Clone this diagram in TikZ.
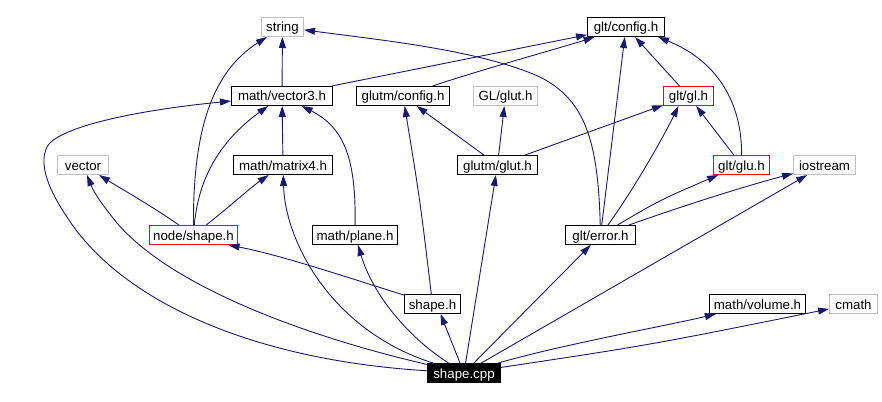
\documentclass[tikz,border=0pt]{standalone}
\usepackage{fontspec}
\setmainfont{Liberation Sans}
\usetikzlibrary{arrows.meta}
\definecolor{edgeblue}{RGB}{25,25,112}
\definecolor{sysgray}{RGB}{191,191,191}
\begin{document}
\begin{tikzpicture}[x=1pt,y=-1pt,
  box/.style={draw=black, line width=1pt, rectangle, inner sep=0pt, minimum height=19pt,
    text height=10pt, text depth=0pt, font=\fontsize{13.3pt}{16pt}\selectfont},
  sysbox/.style={box, draw=sysgray},
  redbox/.style={box, draw=red},
  mainbox/.style={box, fill=black, text=white},
  edge/.style={draw=edgeblue, line width=0.9pt, -{Triangle[length=11pt,width=7pt]}}]
\useasboundingbox (0,0) rectangle (882,401);
\fill[white] (0,0) rectangle (882,401);

% nodes
\node[sysbox, minimum width=42pt]  (string)    at (282.5,27)  {string};
\node[box,    minimum width=77pt]  (gltconfig) at (626,27)    {glt/config.h};
\node[box,    minimum width=101pt] (vec3)      at (282,96)    {math/vector3.h};
\node[box,    minimum width=93pt]  (gconfig)   at (403,96)    {glutm/config.h};
\node[sysbox, minimum width=64pt]  (glglut)    at (505.5,96)  {GL/glut.h};
\node[redbox, minimum width=50pt]  (gl)        at (688.5,96)  {glt/gl.h};
\node[sysbox, minimum width=51pt]  (vector)    at (83,165)    {vector};
\node[box,    minimum width=99pt]  (mat4)      at (283,165)   {math/matrix4.h};
\node[box,    minimum width=80pt]  (glut)      at (497.5,165) {glutm/glut.h};
\node[redbox, minimum width=56pt]  (glu)       at (741.5,165) {glt/glu.h};
\node[sysbox, minimum width=62pt]  (iostream)  at (824.5,165) {iostream};
\node[redbox, minimum width=88pt]  (nodeshape) at (193.5,235) {node/shape.h};
\node[box,    minimum width=85pt]  (plane)     at (355,235)   {math/plane.h};
\node[box,    minimum width=70pt]  (error)     at (600.5,235) {glt/error.h};
\node[box,    minimum width=56pt]  (shapeh)    at (432.5,304) {shape.h};
\node[box,    minimum width=96pt]  (volume)    at (757.5,304) {math/volume.h};
\node[sysbox, minimum width=48pt]  (cmath)     at (853.5,304) {cmath};
\node[mainbox,minimum width=73pt]  (cpp)       at (464,373)   {shape.cpp};

% edges from shape.cpp
\draw[edge] (cpp) .. controls (250,360) and (120,300) .. (67,217)
   .. controls (50,192) and (38,165) .. (47,147)
   .. controls (55,130) and (120,112) .. (vec3);
\draw[edge] (cpp) .. controls (300,335) and (170,285) .. (117,223)
   .. controls (105,208) and (95,195) .. (vector);
\draw[edge] (cpp) .. controls (330,330) and (285,240) .. (mat4);
\draw[edge] (cpp) .. controls (405,335) and (372,292) .. (plane);
\draw[edge] ([xshift=-4pt]cpp.north) -- ([xshift=8pt]shapeh.south);
\draw[edge] (cpp) -- (glut);
\draw[edge] (cpp) -- (error);
\draw[edge] (cpp) -- (iostream);
\draw[edge] (cpp) .. controls (560,345) and (670,325) .. (volume);
\draw[edge] (cpp) .. controls (650,345) .. (cmath);

% node/shape.h
\draw[edge] (nodeshape) .. controls (150,205) and (120,188) .. (vector);
\draw[edge] (nodeshape) .. controls (193,130) and (212,72) .. (string);
\draw[edge] (nodeshape) .. controls (199,170) and (228,135) .. (vec3);
\draw[edge] (nodeshape) .. controls (228,208) and (250,188) .. (mat4);

% math headers
\draw[edge] (vec3) -- (string);
\draw[edge] (mat4) -- (vec3);
\draw[edge] (plane) .. controls (356,160) and (345,128) .. (vec3);
\draw[edge] (vec3) -- (gltconfig);

% shape.h
\draw[edge] (shapeh) .. controls (340,275) and (280,255) .. ([xshift=35pt]nodeshape.south);
\draw[edge] (shapeh) .. controls (420,200) .. (gconfig);

% glutm
\draw[edge] (gconfig) .. controls (480,70) and (560,48) .. (gltconfig);
\draw[edge] (glut) -- (gconfig);
\draw[edge] (glut) -- (glglut);
\draw[edge] (glut) -- (gl);

% glt/error.h
\draw[edge] (error) .. controls (598,140) and (585,100) .. (540,77)
   .. controls (480,50) and (380,40) .. (string);
\draw[edge] (error) -- (gltconfig);
\draw[edge] (error) .. controls (630,195) and (662,140) .. ([xshift=-10pt]gl.south);
\draw[edge] (error) .. controls (660,200) .. (glu);
\draw[edge] (error) .. controls (700,200) and (750,185) .. (iostream);

% glt/gl.h, glt/glu.h
\draw[edge] (gl) -- (gltconfig);
\draw[edge] (glu) -- (gl);
\draw[edge] (glu) .. controls (742,100) and (715,60) .. ([xshift=32pt]gltconfig.south);
\end{tikzpicture}
\end{document}
